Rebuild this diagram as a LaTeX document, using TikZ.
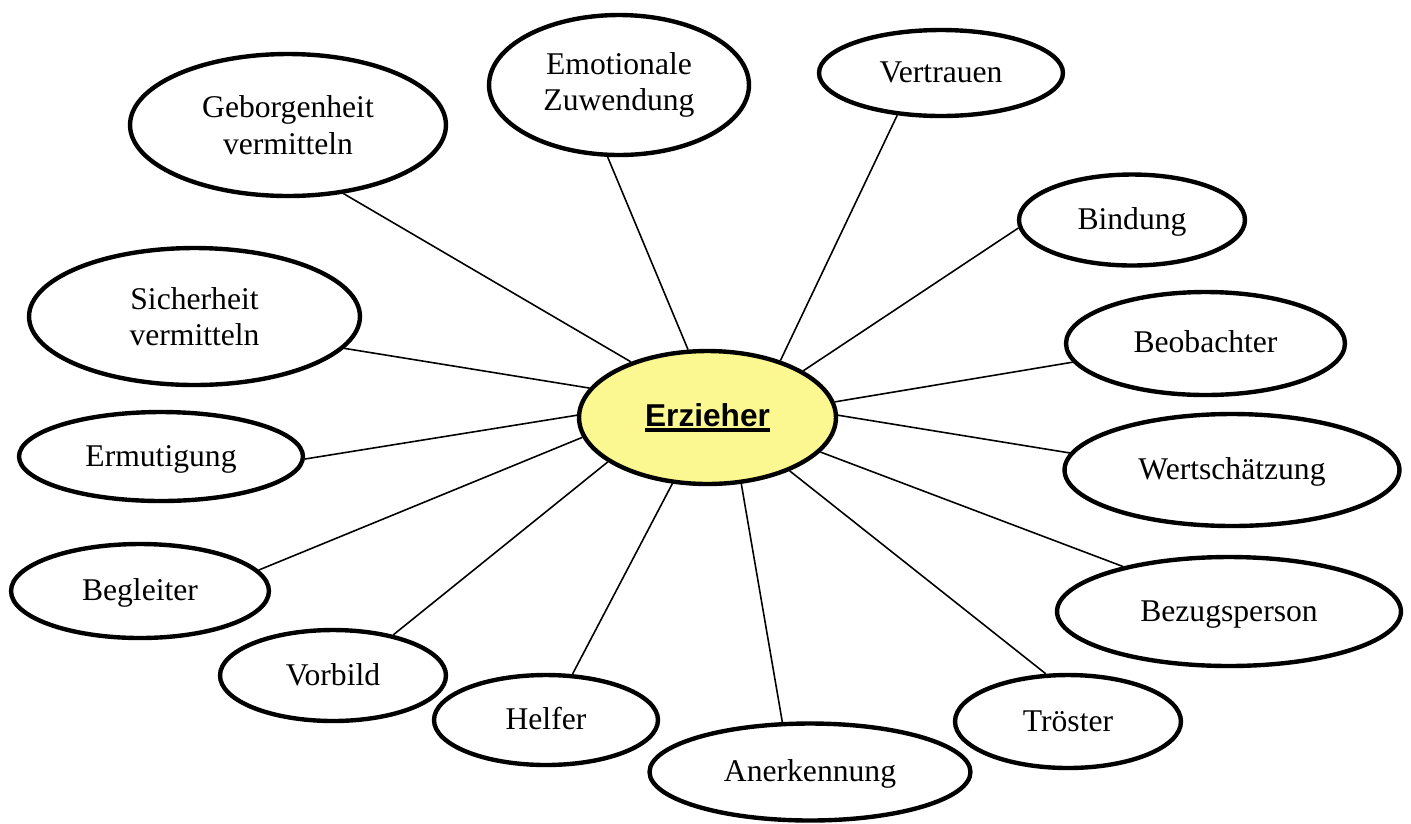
\documentclass[tikz,border=0pt]{standalone}
\usepackage{fontspec}
\setmainfont{Liberation Serif}
\newfontfamily\headfont{Liberation Sans}
\usetikzlibrary{shapes.geometric}
\definecolor{erzyellow}{RGB}{251,247,145}
\newcommand{\Ul}[1]{\setbox0=\hbox{#1}\rlap{\raisebox{-3pt}{\rule{\wd0}{2.2pt}}}\box0}
\tikzset{
  rolle/.style={draw, ellipse, line width=2.5pt, inner sep=0pt, align=center,
                font=\fontsize{18}{20.8}\selectfont},
  wort/.style={rolle, text height=13.5pt, text depth=2.7pt},
  kern/.style={rolle, fill=erzyellow, font=\headfont\bfseries\fontsize{18}{21}\selectfont},
  link/.style={line width=0.9pt},
}
\begin{document}
\begin{tikzpicture}[x=0.02cm, y=-0.02cm]
  \useasboundingbox (0,0) rectangle (1411,823);
  \node[kern, minimum width=5.14cm, minimum height=2.66cm] (erz) at (707.5,417.5) {\Ul{Erzieher}};
  \node[rolle, minimum width=6.32cm, minimum height=2.84cm] (geb) at (288,125) {Geborgenheit\\vermitteln};
  \node[rolle, minimum width=5.2cm, minimum height=2.8cm] (emo) at (619,85) {Emotionale\\Zuwendung};
  \node[wort, minimum width=4.88cm, minimum height=1.72cm] (ver) at (941,73) {Vertrauen};
  \node[wort, minimum width=4.52cm, minimum height=1.82cm] (bin) at (1132,220) {Bindung};
  \node[wort, minimum width=5.58cm, minimum height=2.06cm] (beo) at (1205.5,343.5) {Beobachter};
  \node[wort, minimum width=6.7cm, minimum height=2.24cm] (wer) at (1232,470) {Wertschätzung};
  \node[wort, minimum width=6.88cm, minimum height=2.18cm] (bez) at (1229,611.5) {Bezugsperson};
  \node[wort, minimum width=4.52cm, minimum height=1.86cm] (tro) at (1068,721.5) {Tröster};
  \node[wort, minimum width=6.42cm, minimum height=1.94cm] (ane) at (810,772) {Anerkennung};
  \node[wort, minimum width=4.48cm, minimum height=1.8cm] (hel) at (546,720) {Helfer};
  \node[wort, minimum width=4.52cm, minimum height=1.82cm] (vor) at (333,675.5) {Vorbild};
  \node[wort, minimum width=5.16cm, minimum height=1.88cm] (beg) at (140,591) {Begleiter};
  \node[wort, minimum width=5.68cm, minimum height=1.78cm] (erm) at (161,456.5) {Ermutigung};
  \node[rolle, minimum width=6.62cm, minimum height=2.74cm] (sic) at (194.5,316.5) {Sicherheit\\vermitteln};
  \foreach \n/\a/\b in {geb/-51/144, emo/-99/106, ver/-136/38, bin/-176/26, beo/-172/7,
      wer/174/1, bez/157/-17, tro/115/-33, ane/119/-63, hel/60/-118, vor/34/-156,
      beg/10/-171, erm/-1/179, sic/-12/166}
    \draw[link] (\n.\a) -- (erz.\b);
\end{tikzpicture}
\end{document}
